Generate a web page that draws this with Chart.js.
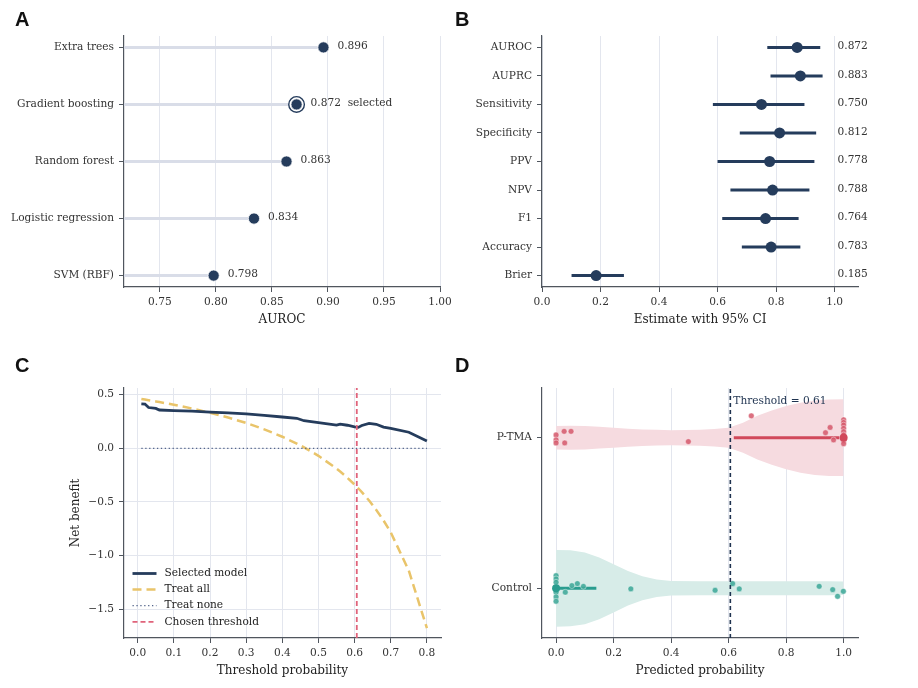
<!DOCTYPE html>
<html>
<head>
<meta charset="utf-8">
<script src="https://cdn.jsdelivr.net/npm/chart.js@4.4.1/dist/chart.umd.min.js"></script>
<style>
  html, body { margin: 0; padding: 0; background: #fff; }
  #fig { position: relative; width: 918px; height: 688px; overflow: hidden; }
  .panel { position: absolute; width: 459px; height: 344px; }
  .letter { position: absolute; font: bold 20px "Liberation Sans", Arial, sans-serif; line-height: 20px; color: #111; }
</style>
</head>
<body>
<div id="fig">
  <div class="panel" style="left:0;top:0"><canvas id="chartA"></canvas></div>
  <div class="panel" style="left:459px;top:0"><canvas id="chartB"></canvas></div>
  <div class="panel" style="left:0;top:344px"><canvas id="chartC"></canvas></div>
  <div class="panel" style="left:459px;top:344px"><canvas id="chartD"></canvas></div>
  <div class="letter" style="left:15px;top:9px">A</div>
  <div class="letter" style="left:455px;top:9px">B</div>
  <div class="letter" style="left:15px;top:355px">C</div>
  <div class="letter" style="left:455px;top:355px">D</div>
</div>
<script>
// ---- A: model comparison (AUROC)
const modelNames = ["Extra trees", "Gradient boosting", "Random forest", "Logistic regression", "SVM (RBF)"];
const modelAuroc = [0.896, 0.872, 0.863, 0.834, 0.798];
const selectedModel = "Gradient boosting";
const ticksA = [0.75, 0.80, 0.85, 0.90, 0.95, 1.00];

// ---- B: metrics with 95% CI
const metricNames = ["AUROC", "AUPRC", "Sensitivity", "Specificity", "PPV", "NPV", "F1", "Accuracy", "Brier"];
const metricEst = [0.872, 0.883, 0.750, 0.812, 0.778, 0.788, 0.764, 0.783, 0.185];
const metricLow = [0.770, 0.781, 0.584, 0.676, 0.600, 0.644, 0.616, 0.683, 0.101];
const metricHigh = [0.951, 0.959, 0.897, 0.937, 0.931, 0.914, 0.877, 0.883, 0.280];
const ticksB = [0, 0.2, 0.4, 0.6, 0.8, 1.0];

// ---- C: decision curve
const thresholds = [0.01, 0.02, 0.03, 0.05, 0.06, 0.10, 0.15, 0.20, 0.25, 0.30, 0.35, 0.40, 0.44, 0.46,
                    0.50, 0.55, 0.56, 0.58, 0.60, 0.61, 0.62, 0.64, 0.66, 0.68, 0.70, 0.75, 0.80];
const nbModel = [0.415, 0.413, 0.380, 0.372, 0.357, 0.352, 0.347, 0.338, 0.330, 0.320, 0.307, 0.292, 0.280, 0.257,
                 0.240, 0.217, 0.226, 0.215, 0.200, 0.195, 0.213, 0.232, 0.224, 0.198, 0.185, 0.150, 0.068];
const nbTreatAll = [0.460, 0.454, 0.448, 0.437, 0.431, 0.406, 0.371, 0.331, 0.287, 0.236, 0.177, 0.108, 0.044, 0.009,
                    -0.070, -0.189, -0.216, -0.274, -0.338, -0.372, -0.408, -0.486, -0.574, -0.672, -0.783, -1.140, -1.675];
const nbTreatNone = [0, 0, 0, 0, 0, 0, 0, 0, 0, 0, 0, 0, 0, 0, 0, 0, 0, 0, 0, 0, 0, 0, 0, 0, 0, 0, 0];
const chosenThreshold = 0.606;
const ticksCx = [0, 0.1, 0.2, 0.3, 0.4, 0.5, 0.6, 0.7, 0.8];
const ticksCy = [-1.5, -1.0, -0.5, 0, 0.5];

// ---- D: predicted probability by group
const groups = ["Control", "P-TMA"];
const violinX = [0, 0.05, 0.1, 0.15, 0.2, 0.25, 0.3, 0.35, 0.4, 0.5, 0.55, 0.6, 0.65, 0.7, 0.75, 0.8, 0.85, 0.9, 0.95, 1.0];
const ptmaHalf = [0.078, 0.080, 0.078, 0.072, 0.066, 0.060, 0.055, 0.052, 0.050, 0.053, 0.058, 0.066, 0.100, 0.145, 0.180, 0.210, 0.232, 0.247, 0.254, 0.255];
const controlHalf = [0.255, 0.252, 0.238, 0.205, 0.160, 0.115, 0.080, 0.058, 0.048, 0.046, 0.046, 0.046, 0.046, 0.046, 0.046, 0.046, 0.046, 0.046, 0.046, 0.045];
const ptmaX = [0, 0, 0, 0.028, 0.052, 0.030, 0.460, 0.679, 0.937, 0.953, 0.965, 1, 1, 1, 1, 1, 1, 1, 1];
const ptmaY = [1.018, 0.985, 0.965, 1.042, 1.042, 0.965, 0.974, 1.145, 1.033, 1.068, 0.985, 1.119, 1.101, 1.084, 1.062, 1.040, 1.018, 0.980, 0.960];
const controlX = [0, 0, 0, 0, 0, 0, 0.032, 0.055, 0.074, 0.095, 0.260, 0.553, 0.614, 0.637, 0.915, 0.962, 0.979, 0.999];
const controlY = [0.084, 0.062, 0.040, -0.026, -0.057, -0.086, -0.026, 0.018, 0.031, 0.013, -0.004, -0.013, 0.031, -0.004, 0.013, -0.009, -0.053, -0.020];
const ptmaMedian = 1.0, ptmaIqr = [0.618, 0.985];
const controlMedian = 0.0, controlIqr = [0.0, 0.14];
const ticksD = [0, 0.2, 0.4, 0.6, 0.8, 1.0];

// 색 / 스타일
const NAVY = "#253c5c";
const SPINE = "#50565e";
const GRID = "#e3e6ee";
const SERIF = '"DejaVu Serif", serif';
const TITLE_FONT = { size: 12 };

Chart.defaults.font.family = SERIF;
Chart.defaults.font.size = 10.6;
Chart.defaults.color = "#333";
Chart.defaults.animation = false;
Chart.defaults.plugins.legend.display = false;
Chart.defaults.plugins.tooltip.enabled = false;

const fixTicks = (vals) => (scale) => { scale.ticks = vals.map((v) => ({ value: v })); };
const fixWidth = (w) => (scale) => { scale.width = w; };
const fixHeight = (h) => (scale) => { scale.height = h; };
const minus = (s) => s.replace("-", "\u2212");

// x 축 공통 옵션
function xAxis(min, max, ticks, fmt, title, gridOn = true) {
  return {
    type: "linear", min, max,
    afterBuildTicks: fixTicks(ticks),
    afterFit: fixHeight(40),
    ticks: { callback: fmt, maxRotation: 0, padding: 4, autoSkip: false },
    grid: { color: GRID, drawOnChartArea: gridOn, tickColor: SPINE, tickLength: 5, lineWidth: 1 },
    border: { color: SPINE, width: 1.2 },
    title: { display: true, text: title, font: TITLE_FONT, color: "#222", padding: { top: 0, bottom: 0 } },
  };
}

function yCatAxis(min, max, labels, width) {
  return {
    type: "linear", min, max, reverse: true,
    afterBuildTicks: fixTicks(labels.map((_, i) => i)),
    afterFit: fixWidth(width),
    ticks: { callback: (v) => labels[v], padding: 5, autoSkip: false },
    grid: { drawOnChartArea: false, tickColor: SPINE, tickLength: 5 },
    border: { color: SPINE, width: 1.2 },
  };
}

// 점 옆 텍스트
function textPlugin(id, items) {
  return {
    id,
    afterDatasetsDraw(chart) {
      const { ctx, scales: { x, y } } = chart;
      ctx.save();
      ctx.font = "10.6px " + SERIF;
      ctx.textBaseline = "middle";
      ctx.textAlign = "left";
      items(chart).forEach((it) => {
        ctx.fillStyle = it.color || "#333";
        const px = it.px !== undefined ? it.px : x.getPixelForValue(it.x) + (it.dx || 0);
        const py = it.py !== undefined ? it.py : y.getPixelForValue(it.y) + (it.dy || 0);
        ctx.fillText(it.text, px, py);
      });
      ctx.restore();
    },
  };
}

// ---------------- A
const xMinA = 0.718;
const stemsA = modelAuroc.map((v, i) => ({
  data: [{ x: xMinA, y: i }, { x: v, y: i }],
  showLine: true, borderColor: "#d9dde8", borderWidth: 3, pointRadius: 0, order: 3,
}));
new Chart(document.getElementById("chartA"), {
  type: "scatter",
  data: {
    datasets: [
      ...stemsA,
      {
        data: modelAuroc.map((v, i) => ({ x: v, y: i })).filter((p) => modelNames[p.y] === selectedModel),
        pointRadius: 7.8, backgroundColor: "#fff", borderColor: NAVY, borderWidth: 1.4, order: 2,
      },
      {
        data: modelAuroc.map((v, i) => ({ x: v, y: i })),
        pointRadius: 5.6, backgroundColor: NAVY, borderColor: "#fff", borderWidth: 0.8, order: 1,
      },
    ],
  },
  options: {
    responsive: true, maintainAspectRatio: false,
    layout: { padding: { left: 0, right: 19, top: 36, bottom: 17 } },
    scales: {
      x: xAxis(xMinA, 1.0, ticksA, (v) => v.toFixed(2), "AUROC"),
      y: yCatAxis(-0.2, 4.2, modelNames, 124),
    },
  },
  plugins: [textPlugin("labelsA", () => modelAuroc.map((v, i) => ({
    x: v, y: i, dx: 14, dy: -1,
    text: v.toFixed(3) + (modelNames[i] === selectedModel ? "  selected" : ""),
  })))],
});

// ---------------- B
const ciB = metricEst.map((_, i) => ({
  data: [{ x: metricLow[i], y: i }, { x: metricHigh[i], y: i }],
  showLine: true, borderColor: NAVY, borderWidth: 3, pointRadius: 0, order: 2,
}));
new Chart(document.getElementById("chartB"), {
  type: "scatter",
  data: {
    datasets: [
      ...ciB,
      { data: metricEst.map((v, i) => ({ x: v, y: i })), pointRadius: 5.5, backgroundColor: NAVY, borderColor: NAVY, borderWidth: 0, order: 1 },
    ],
  },
  options: {
    responsive: true, maintainAspectRatio: false,
    layout: { padding: { left: 0, right: 60, top: 36, bottom: 17 } },
    scales: {
      x: xAxis(0, 1.08, ticksB, (v) => v.toFixed(1), "Estimate with 95% CI"),
      y: yCatAxis(-0.4, 8.4, metricNames, 83),
    },
  },
  plugins: [textPlugin("labelsB", () => metricEst.map((v, i) => ({ x: 1.01, y: i, dy: -1, text: v.toFixed(3) })))],
});

// ---------------- C
const yMinC = -1.767, yMaxC = 0.562;
const legendC = {
  id: "legendC",
  afterDatasetsDraw(chart) {
    const { ctx, chartArea } = chart;
    ctx.save();
    ctx.font = "10.6px " + SERIF;
    ctx.textBaseline = "middle";
    chart.data.datasets.forEach((ds, i) => {
      const y = chartArea.bottom - 64.5 + i * 16.1;
      const x0 = chartArea.left + 8.5;
      ctx.strokeStyle = ds.borderColor;
      ctx.lineWidth = ds.borderWidth;
      ctx.setLineDash(ds.borderDash || []);
      ctx.beginPath();
      ctx.moveTo(x0, y);
      ctx.lineTo(x0 + 24, y);
      ctx.stroke();
      ctx.fillStyle = "#222";
      ctx.fillText(ds.label, x0 + 32, y);
    });
    ctx.restore();
  },
};
new Chart(document.getElementById("chartC"), {
  type: "scatter",
  data: {
    datasets: [
      { label: "Selected model", data: thresholds.map((t, i) => ({ x: t, y: nbModel[i] })), showLine: true,
        borderColor: NAVY, borderWidth: 2.8, pointRadius: 0, order: 1 },
      { label: "Treat all", data: thresholds.map((t, i) => ({ x: t, y: nbTreatAll[i] })), showLine: true,
        borderColor: "#e9c46a", borderWidth: 2.5, borderDash: [9, 5], pointRadius: 0, order: 3 },
      { label: "Treat none", data: thresholds.map((t, i) => ({ x: t, y: nbTreatNone[i] })), showLine: true,
        borderColor: "#53648a", borderWidth: 1.3, borderDash: [1.3, 2.6], pointRadius: 0, order: 2 },
      { label: "Chosen threshold", data: [{ x: chosenThreshold, y: yMinC }, { x: chosenThreshold, y: yMaxC }], showLine: true,
        borderColor: "#e0637a", borderWidth: 1.8, borderDash: [5, 3], pointRadius: 0, order: 0 },
    ],
  },
  options: {
    responsive: true, maintainAspectRatio: false,
    layout: { padding: { left: 62, right: 18, top: 44, bottom: 10 } },
    scales: {
      x: xAxis(-0.038, 0.839, ticksCx, (v) => v.toFixed(1), "Threshold probability"),
      y: {
        type: "linear", min: yMinC, max: yMaxC,
        afterBuildTicks: fixTicks(ticksCy),
        afterFit: fixWidth(62),
        ticks: { callback: (v) => minus(v.toFixed(1)), padding: 5 },
        grid: { color: GRID, tickColor: SPINE, tickLength: 5 },
        border: { color: SPINE, width: 1.2 },
        title: { display: true, text: "Net benefit", font: TITLE_FONT, color: "#222", padding: { top: 7, bottom: 0 } },
      },
    },
  },
  plugins: [legendC],
});

// ---------------- D
const yMinD = -0.33, yMaxD = 1.33;
const pts = (xs, ys) => xs.map((x, i) => ({ x, y: ys[i] }));
new Chart(document.getElementById("chartD"), {
  type: "scatter",
  data: {
    datasets: [
      { data: violinX.map((x, i) => ({ x, y: 1 + ptmaHalf[i] })), showLine: true, borderColor: "transparent", borderWidth: 0, pointRadius: 0, order: 10 },
      { data: violinX.map((x, i) => ({ x, y: 1 - ptmaHalf[i] })), showLine: true, borderColor: "transparent", borderWidth: 0, pointRadius: 0,
        fill: "-1", backgroundColor: "#f6dbe0", order: 10 },
      { data: violinX.map((x, i) => ({ x, y: controlHalf[i] })), showLine: true, borderColor: "transparent", borderWidth: 0, pointRadius: 0, order: 10 },
      { data: violinX.map((x, i) => ({ x, y: -controlHalf[i] })), showLine: true, borderColor: "transparent", borderWidth: 0, pointRadius: 0,
        fill: "-1", backgroundColor: "#d7ece8", order: 10 },
      { data: [{ x: ptmaIqr[0], y: 1 }, { x: ptmaIqr[1], y: 1 }], showLine: true, borderColor: "#d1495b", borderWidth: 3, pointRadius: 0, order: 5 },
      { data: [{ x: controlIqr[0], y: 0 }, { x: controlIqr[1], y: 0 }], showLine: true, borderColor: "#2a9d8f", borderWidth: 3, pointRadius: 0, order: 5 },
      { data: pts(ptmaX, ptmaY), pointRadius: 2.9, backgroundColor: "rgba(214,92,110,0.88)", borderColor: "rgba(255,255,255,0.7)", borderWidth: 0.6, order: 4 },
      { data: pts(controlX, controlY), pointRadius: 2.9, backgroundColor: "rgba(64,168,152,0.88)", borderColor: "rgba(255,255,255,0.7)", borderWidth: 0.6, order: 4 },
      { data: [{ x: ptmaMedian, y: 1 }], pointRadius: 4, backgroundColor: "#d1495b", borderWidth: 0, order: 3 },
      { data: [{ x: controlMedian, y: 0 }], pointRadius: 4, backgroundColor: "#2a9d8f", borderWidth: 0, order: 3 },
      { data: [{ x: chosenThreshold, y: yMinD }, { x: chosenThreshold, y: yMaxD }], showLine: true,
        borderColor: "#1f3350", borderWidth: 1.6, borderDash: [4, 3], pointRadius: 0, order: 1 },
    ],
  },
  options: {
    responsive: true, maintainAspectRatio: false,
    layout: { padding: { left: 0, right: 60, top: 44, bottom: 10 } },
    scales: {
      x: xAxis(-0.049, 1.05, ticksD, (v) => v.toFixed(1), "Predicted probability"),
      y: {
        type: "linear", min: yMinD, max: yMaxD,
        afterBuildTicks: fixTicks([0, 1]),
        afterFit: fixWidth(83),
        ticks: { callback: (v) => groups[v], padding: 5 },
        grid: { drawOnChartArea: false, tickColor: SPINE, tickLength: 5 },
        border: { color: SPINE, width: 1.2 },
      },
    },
  },
  plugins: [textPlugin("labelD", (chart) => [{
    px: chart.scales.x.getPixelForValue(chosenThreshold) + 3, py: chart.chartArea.top + 13,
    text: "Threshold = " + chosenThreshold.toFixed(2), color: "#1f3350",
  }])],
});
</script>
</body>
</html>
